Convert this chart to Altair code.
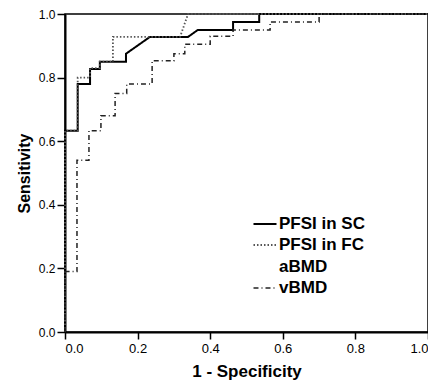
import altair as alt
import pandas as pd

series_names = ["PFSI in SC", "PFSI in FC", "aBMD", "vBMD"]

sc_x = [0, 0, 0.035, 0.035, 0.069, 0.069, 0.096, 0.096, 0.168, 0.168, 0.234, 0.339, 0.366, 0.463, 0.463, 0.535, 0.535, 1.0]
sc_y = [0, 0.633, 0.633, 0.78, 0.78, 0.827, 0.827, 0.85, 0.85, 0.875, 0.928, 0.928, 0.95, 0.95, 0.975, 0.975, 1.0, 1.0]

fc_x = [0, 0, 0.035, 0.035, 0.069, 0.069, 0.096, 0.096, 0.132, 0.132, 0.317, 0.339, 1.0]
fc_y = [0, 0.633, 0.633, 0.80, 0.80, 0.83, 0.83, 0.85, 0.85, 0.928, 0.928, 1.0, 1.0]

vb_x = [0, 0, 0.033, 0.033, 0.066, 0.066, 0.099, 0.099, 0.138, 0.138, 0.170, 0.170, 0.240, 0.240,
        0.300, 0.300, 0.330, 0.330, 0.400, 0.400, 0.463, 0.463, 0.565, 0.565, 0.700, 0.700, 1.0]
vb_y = [0, 0.19, 0.19, 0.54, 0.54, 0.633, 0.633, 0.68, 0.68, 0.75, 0.75, 0.78, 0.78, 0.853,
        0.853, 0.875, 0.875, 0.905, 0.905, 0.93, 0.93, 0.95, 0.95, 0.975, 0.975, 1.0, 1.0]

rows = []
for name, xs, ys in [("PFSI in SC", sc_x, sc_y), ("PFSI in FC", fc_x, fc_y), ("vBMD", vb_x, vb_y)]:
    for i, (a, b) in enumerate(zip(xs, ys)):
        rows.append({"series": name, "fpr": a, "tpr": b, "order": i})
df = pd.DataFrame(rows)

tick_vals = [0, 0.2, 0.4, 0.6, 0.8, 1.0]

chart = alt.Chart(df).mark_line(interpolate="linear").encode(
    x=alt.X("fpr:Q", scale=alt.Scale(domain=[0, 1], nice=False),
            axis=alt.Axis(title="1 - Specificity", values=tick_vals, format=".1f", grid=False,
                          tickSize=7, labelPadding=3, titlePadding=8)),
    y=alt.Y("tpr:Q", scale=alt.Scale(domain=[0, 1], nice=False),
            axis=alt.Axis(title="Sensitivity", values=tick_vals, format=".1f", grid=False,
                          tickSize=8, labelPadding=2, titlePadding=6, labelFontSize=12)),
    order="order:Q",
    color=alt.Color("series:N", scale=alt.Scale(domain=series_names,
                                                range=["#000000", "#555555", "#ffffff", "#222222"]),
                    legend=alt.Legend(title=None, orient="none", legendX=187, legendY=197,
                                      symbolType="stroke", symbolSize=530, symbolStrokeWidth=1.2,
                                      labelFontSize=17, labelFont="Liberation Sans", labelFontWeight="bold",
                                      labelColor="#000000", rowPadding=0.5, labelOffset=1)),
    strokeDash=alt.StrokeDash("series:N", scale=alt.Scale(domain=series_names,
                                                          range=[[1, 0], [1.5, 2], [1, 0], [5, 3, 1, 3]])),
    strokeWidth=alt.StrokeWidth("series:N", scale=alt.Scale(domain=series_names, range=[2, 1.5, 1, 1.5]),
                                legend=None),
).properties(
    width=363, height=318,
    autosize=alt.AutoSizeParams(type="none"),
    padding={"left": 57, "top": 6, "right": 0, "bottom": 52},
).configure_view(
    stroke="#000000", strokeWidth=1.5
).configure_axis(
    domainColor="#000000", domainWidth=2, tickColor="#000000", tickWidth=1.5,
    labelColor="#000000", labelFont="Liberation Sans", labelFontSize=13,
    titleColor="#000000", titleFont="Liberation Sans", titleFontWeight="bold", titleFontSize=16,
).configure_axisX(titleFontSize=17)

chart.save("out.html", embed_options={"renderer": "svg", "actions": False})
